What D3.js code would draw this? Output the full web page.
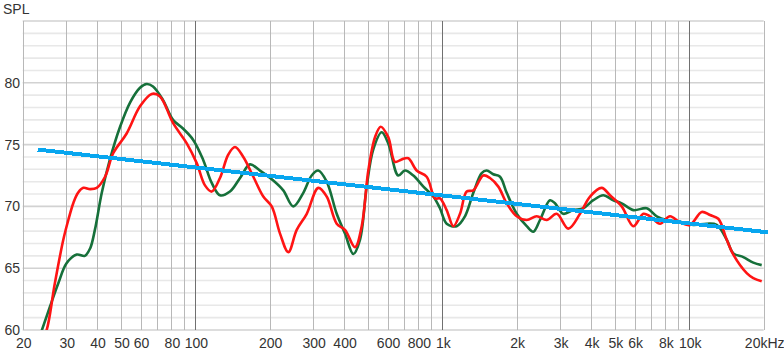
<!DOCTYPE html>
<html>
<head>
<meta charset="utf-8">
<script src="https://cdn.jsdelivr.net/npm/d3@7"></script>
<style>
  body { margin: 0; background: #fff; }
  text { font-family: "Liberation Sans Narrow", "Liberation Sans", sans-serif; font-size: 14px; fill: #333; }
</style>
</head>
<body>
<div id="chart"></div>
<script>
// frequency response
const greenFreq = [23,25.8,27.9,30.1,33.1,35.7,37.5,39.2,41.8,45.1,49.5,54.4,59.7,63.5,67.4,74,81.2,89.1,97.9,107.4,116.5,125.8,138.1,151.7,166.4,182.7,206.8,227,249.2,273.6,295.8,314.6,340.2,373.5,403.5,436,464,494,525,568,604,663,706,763,838,919,978,1041,1143,1235,1335,1443,1512,1608,1712,1822,2000,2196,2335,2485,2728,2858,3088,3390,3722,4085,4484,4922,5324,5932,6720,7377,8098,9166,10376,11757,12906,14170,15068,16539,18154,19630];
const greenSpl = [59.0,61.9,63.8,65.4,66.1,66.0,66.6,68.1,71.1,73.8,76.4,78.4,79.6,79.9,79.7,78.6,77.0,76.3,75.4,73.8,71.9,70.9,71.2,72.3,73.4,72.9,72.1,71.3,70.0,71.1,72.5,72.9,72.0,69.4,67.8,66.15,67.3,71.6,74.6,76.0,75.1,72.5,72.9,72.5,71.6,70.8,69.85,68.6,68.4,69.2,71.1,72.7,72.9,72.6,72.4,71.1,69.4,68.4,67.95,68.9,70.5,70.25,69.4,69.7,69.85,70.5,70.9,70.5,70.25,69.7,69.85,69.2,68.9,68.75,68.5,68.6,68.5,67.3,66.2,65.9,65.45,65.25];

const redFreq = [23.9,25,27,29.2,30.6,32.1,33.5,35.2,37.5,39.9,43.1,46.5,52.7,59.7,66.6,71.9,81.2,92.3,101.3,109.4,116.5,125.8,136,144.7,156.4,171.7,188.4,203.8,220.2,237.9,257.3,282.5,314.6,340.2,373.5,403.5,443,471.6,501.5,533.8,562.8,604,643,684,728,787,864,934,978,1041,1108,1179,1255,1335,1465,1559,1685,1822,2000,2196,2410,2646,2904,3236,3609,3962,4417,4772,5324,5932,6512,6930,7608,8351,9166,10060,11220,12122,13102,14170,15068,17072,18154,19630];
const redSpl = [59.2,60.0,63.8,67.3,68.9,70.3,71.1,71.5,71.4,71.5,72.4,74.3,75.9,78.1,79.1,78.9,76.75,75.1,73.5,71.7,71.2,72.3,74.2,74.8,74.0,72.4,70.8,70.0,67.8,66.3,68.1,69.4,71.5,70.8,68.6,68.1,66.7,68.4,72.9,75.6,76.45,75.6,73.6,73.8,73.9,72.9,72.4,70.65,70.65,69.7,68.4,69.4,71.2,71.3,72.5,72.3,71.6,70.25,69.2,68.9,69.2,68.9,69.4,68.2,69.4,70.8,71.5,70.9,70.0,68.4,69.4,69.2,68.6,69.2,68.7,68.5,69.55,69.3,69.0,67.3,66.1,64.6,64.2,63.95];

// target slope
const targetFreq = [23, 20800];
const targetSpl = [74.6, 67.9];

const xTicks = [20,30,40,50,60,80,100,200,300,400,600,800,1000,2000,3000,4000,5000,6000,8000,10000,20000];
const xTickLabels = ["20","30","40","50","60","80","100","200","300","400","600","800","1k","2k","3k","4k","5k","6k","8k","10k","20kHz"];
const yTicks = [60,65,70,75,80];

const width = 784, height = 354;
const plotL = 22.7, plotR = 763.7, plotT = 21, plotB = 330;

const svg = d3.select("#chart").append("svg")
  .attr("width", width)
  .attr("height", height);

const x = d3.scaleLog().domain([20, 20000]).range([plotL, plotR]);
const y = d3.scaleLinear().domain([60, 85]).range([plotB, plotT]);

// horizontal grid, 1 dB
const hLines = d3.range(60, 86);
svg.append("g").selectAll("line")
  .data(hLines)
  .enter().append("line")
  .attr("x1", plotL).attr("x2", plotR)
  .attr("y1", d => y(d)).attr("y2", d => y(d))
  .attr("stroke", d => d % 5 === 0 ? "#d2d2d2" : "#e8e8e8")
  .attr("stroke-width", 1.6);

// vertical grid
const vLines = [];
[10, 100, 1000, 10000].forEach(dec => {
  for (let k = 1; k <= 9; k++) {
    const f = dec * k;
    if (f >= 20 && f <= 20000) vLines.push(f);
  }
});
vLines.push(20000);
svg.append("g").selectAll("line")
  .data(vLines)
  .enter().append("line")
  .attr("x1", d => Math.round(x(d)) + 0.5).attr("x2", d => Math.round(x(d)) + 0.5)
  .attr("y1", plotT).attr("y2", plotB)
  .attr("stroke", d => [100, 1000, 10000].includes(d) ? "#707070" : "#b8b8b8")
  .attr("stroke-width", 1);

// tick labels
svg.append("g").selectAll("text")
  .data(xTicks)
  .enter().append("text")
  .attr("x", d => x(d) + 1)
  .attr("y", 348)
  .attr("text-anchor", "middle")
  .text((d, i) => xTickLabels[i]);

svg.append("g").selectAll("text")
  .data(yTicks)
  .enter().append("text")
  .attr("x", 20)
  .attr("y", d => y(d) + 5)
  .attr("text-anchor", "end")
  .text(d => d);

svg.append("text")
  .attr("x", 3).attr("y", 14)
  .text("SPL");

svg.append("clipPath").attr("id", "plot")
  .append("rect")
  .attr("x", plotL).attr("y", plotT)
  .attr("width", plotR - plotL).attr("height", plotB - plotT);

const line = d3.line()
  .x(d => x(d[0]))
  .y(d => y(d[1]))
  .curve(d3.curveCatmullRom.alpha(0.5));

const curves = svg.append("g").attr("clip-path", "url(#plot)");

curves.append("path")
  .datum(d3.zip(greenFreq, greenSpl))
  .attr("d", line)
  .attr("fill", "none")
  .attr("stroke", "#16703a")
  .attr("stroke-width", 2.6);

curves.append("path")
  .datum(d3.zip(redFreq, redSpl))
  .attr("d", line)
  .attr("fill", "none")
  .attr("stroke", "#ff1414")
  .attr("stroke-width", 2.6);

svg.append("path")
  .datum(d3.zip(targetFreq, targetSpl))
  .attr("d", d3.line().x(d => x(d[0])).y(d => y(d[1])))
  .attr("fill", "none")
  .attr("stroke", "#08a6ef")
  .attr("stroke-width", 4)
  .attr("shape-rendering", "crispEdges");
</script>
</body>
</html>
